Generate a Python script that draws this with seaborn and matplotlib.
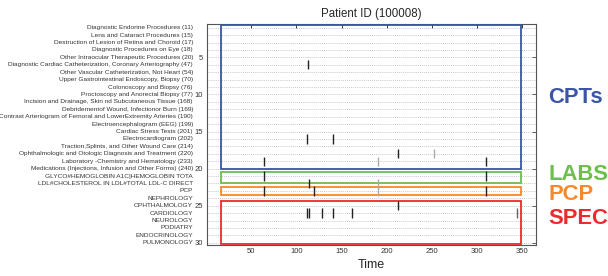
import numpy as np
import pandas as pd
import matplotlib
matplotlib.use("Agg")
import matplotlib.pyplot as plt
import matplotlib.transforms as mtransforms
from matplotlib.patches import Rectangle
import seaborn as sns

# ---- data ----
categories = [
    "Diagnostic Endorine Procedures (11)",
    "Lens and Cataract Procedures (15)",
    "Destruction of Lesion of Retina and Choroid (17)",
    "Diagnostic Procedures on Eye (18)",
    "Other Intraocular Therapeutic Procedures (20)",
    "Diagnostic Cardiac Catheterization, Coronary Arteriography (47)",
    "Other Vascular Catheterization, Not Heart (54)",
    "Upper Gastrointestinal Endoscopy, Biopsy (70)",
    "Colonoscopy and Biopsy (76)",
    "Proctoscopy and Anorectal Biopsy (77)",
    "Incision and Drainage, Skin nd Subcutaneous Tissue (168)",
    "Debridementof Wound, Infectionor Burn (169)",
    "Contrast Arteriogram of Femoral and LowerExtremity Arteries (190)",
    "Electroencephalogram (EEG) (199)",
    "Cardiac Stress Tests (201)",
    "Electrocardiogram (202)",
    "Traction,Splints, and Other Wound Care (214)",
    "Ophthalmologic and Otologic Diagnosis and Treatment (220)",
    "Laboratory -Chemistry and Hematology (233)",
    "Medications (Injections, Infusion and Other Forms) (240)",
    "GLYCO#HEMOGLOBIN A1C|HEMOGLOBIN TOTA",
    "LDL#CHOLESTEROL IN LDL#TOTAL LDL-C DIRECT",
    "PCP",
    "NEPHROLOGY",
    "OPHTHALMOLOGY",
    "CARDIOLOGY",
    "NEUROLOGY",
    "PODIATRY",
    "ENDOCRINOLOGY",
    "PULMONOLOGY",
]

# events: row index (1-based), time, shade
event_rows  = [6, 16, 16, 18, 18, 19, 19, 19, 21, 21, 22, 22, 23, 23, 23, 23, 25, 26, 26, 26, 26, 26, 26]
event_times = [113, 112, 141, 212, 252, 64, 190, 310, 64, 310, 114, 190, 64, 120, 190, 310, 212, 112, 114, 128, 141, 162, 344]
event_shade = ["dark", "dark", "dark", "dark", "light", "dark", "light", "dark", "dark", "dark", "dark", "light",
               "dark", "dark", "light", "dark", "dark", "dark", "dark", "dark", "dark", "dark", "mid"]

# groups: name, first row edge, last row edge, color
group_names  = ["CPTs", "LABS", "PCP", "SPEC"]
group_top    = [0.65, 20.5, 22.45, 24.3]
group_bottom = [20.0, 22.0, 23.6, 30.2]
group_colors = ["#3a55a8", "#6cbf4a", "#f7882b", "#ee2a2e"]
group_label_y = [97.5, 175, 194.5, 218.5]   # pixel rows in figure

x_ticks = [50, 100, 150, 200, 250, 300, 350]
y_ticks = [5, 10, 15, 20, 25, 30]

# ---- figure ----
sns.set_theme(style="white")
plt.rcParams["font.family"] = ["Liberation Sans", "DejaVu Sans"]

W, H = 608, 276
fig = plt.figure(figsize=(W / 100, H / 100), dpi=100)
ax = fig.add_axes([207 / W, 1 - 245 / H, (536 - 207) / W, (245 - 24) / H])

df = pd.DataFrame({"time": event_times, "row": event_rows, "shade": event_shade})
sns.scatterplot(data=df, x="time", y="row", hue="shade", marker="|", s=45, linewidth=1.0,
                palette={"dark": "#222222", "light": "#aaaaaa", "mid": "#666666"},
                legend=False, ax=ax, zorder=4)

ax.set_xlim(1.3, 365)
ax.set_ylim(30.3, 0.5)

# dotted horizontal grid at each row
for r in range(1, len(categories) + 1):
    ax.axhline(r, color="#b4b4b4", linestyle=(0, (1, 1.5)), linewidth=0.6, zorder=1)

# group boxes
for top, bot, col in zip(group_top, group_bottom, group_colors):
    ax.add_patch(Rectangle((16.8, top), 348.6 - 16.8, bot - top, fill=False,
                           edgecolor=col, linewidth=1.3, zorder=3))

ax.set_xticks(x_ticks)
ax.set_yticks(y_ticks)
ax.tick_params(axis="both", which="major", direction="in", length=3, width=0.7,
               labelsize=5.5, colors="#333333", top=True, right=True, pad=2)
ax.tick_params(axis="y", pad=3)
for s in ax.spines.values():
    s.set_color("#555555")
    s.set_linewidth(0.8)

ax.set_xlabel("Time", fontsize=9, labelpad=3)
ax.set_ylabel("")
ax.set_title("Patient ID (100008)", fontsize=8.3, pad=5)

# category labels left of numeric ticks
trans = mtransforms.blended_transform_factory(ax.transAxes, ax.transData)
trans = trans + mtransforms.ScaledTranslation(-14 / 100, 0, fig.dpi_scale_trans)
for i, c in enumerate(categories):
    ax.text(0, i + 1, c, transform=trans, ha="right", va="center", fontsize=4.65, color="#333333")

# group labels on the right
for name, y, col in zip(group_names, group_label_y, group_colors):
    fig.text(548 / W, 1 - y / H, name, color=col, fontsize=15.8, fontweight="bold",
             ha="left", va="center")

fig.savefig("out.png", dpi=100)
